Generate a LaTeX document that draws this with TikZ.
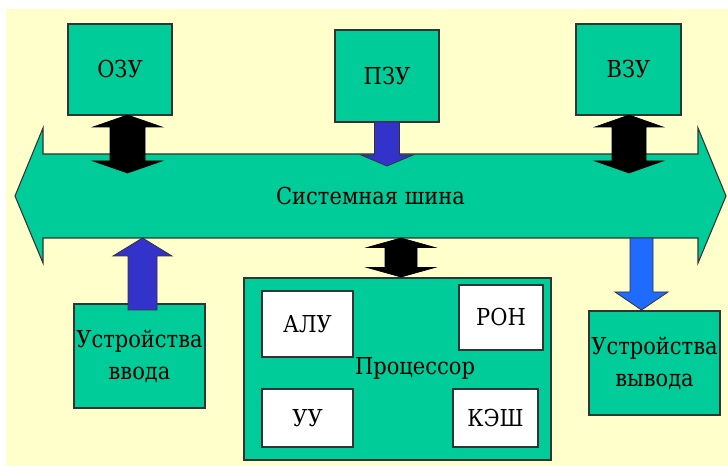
\documentclass[tikz,border=0pt]{standalone}
\usepackage{fontspec}
\newfontfamily\diagramfont{DejaVu Serif}[FakeStretch=0.9]
\usetikzlibrary{calc}

\definecolor{cream}{HTML}{FFFFCC}
\definecolor{busgreen}{HTML}{00CC99}
\definecolor{edgegray}{HTML}{333333}
\definecolor{romblue}{HTML}{3333CC}
\definecolor{outblue}{HTML}{1F6BFF}

% vertical double block arrow: #1 style, #2 upper tip, #3 lower tip,
% #4 shaft half-width, #5 head half-width, #6 head length
\newcommand\blockDouble[6]{%
  \draw[#1] (#2) -- ($(#2)+(#5,#6)$) -- ($(#2)+(#4,#6)$) -- ($(#3)+(#4,-#6)$)
    -- ($(#3)+(#5,-#6)$) -- (#3) -- ($(#3)+(-#5,-#6)$) -- ($(#3)+(-#4,-#6)$)
    -- ($(#2)+(-#4,#6)$) -- ($(#2)+(-#5,#6)$) -- cycle;}
% downward block arrow: #2 tail centre, #3 tip
\newcommand\blockDown[6]{%
  \draw[#1] ($(#2)+(-#4,0)$) -- ($(#2)+(#4,0)$) -- ($(#3)+(#4,-#6)$)
    -- ($(#3)+(#5,-#6)$) -- (#3) -- ($(#3)+(-#5,-#6)$) -- ($(#3)+(-#4,-#6)$) -- cycle;}
% upward block arrow: #2 tail centre, #3 tip
\newcommand\blockUp[6]{%
  \draw[#1] ($(#2)+(-#4,0)$) -- ($(#2)+(#4,0)$) -- ($(#3)+(#4,#6)$)
    -- ($(#3)+(#5,#6)$) -- (#3) -- ($(#3)+(-#5,#6)$) -- ($(#3)+(-#4,#6)$) -- cycle;}

\tikzset{
  label font/.style={font=\diagramfont\fontsize{17.5}{24}\selectfont},
  box/.style={draw=edgegray, fill=busgreen, line width=0.8pt, inner sep=0pt,
              outer sep=0pt, align=center, label font},
  unit/.style={box, fill=white},
  busshape/.style={draw=edgegray, fill=busgreen, line width=0.8pt},
  blackarrow/.style={draw=black, fill=black, line width=0.5pt},
  romarrow/.style={draw=edgegray, fill=romblue, line width=0.6pt},
  outarrow/.style={draw=edgegray, fill=outblue, line width=0.6pt},
}

\begin{document}
\begin{tikzpicture}[x=0.75pt, y=-0.75pt]
  \useasboundingbox (0,0) rectangle (728,466);
  \fill[cream] (6,9) rectangle (728,466);

  % memory blocks
  \node[box, minimum width=104*0.75pt, minimum height=91*0.75pt] (ozu) at (120,69.5) {ОЗУ};
  \node[box, minimum width=104*0.75pt, minimum height=92*0.75pt] (pzu) at (387,76) {ПЗУ};
  \node[box, minimum width=105*0.75pt, minimum height=91*0.75pt] (vzu) at (628.5,69.5) {ВЗУ};

  % peripheral devices
  \node[box, minimum width=131*0.75pt, minimum height=104*0.75pt] (inp) at (139.5,356) {Устройства\\ввода};
  \node[box, minimum width=131*0.75pt, minimum height=104*0.75pt] (outp) at (654.5,363) {Устройства\\вывода};

  % processor and its units
  \node[box, minimum width=307*0.75pt, minimum height=182*0.75pt] (cpu) at (397.5,369) {};
  \node[label font] (cpulabel) at (415,368) {Процессор};
  \node[unit, minimum width=91*0.75pt, minimum height=66*0.75pt] (alu) at (307.5,324) {АЛУ};
  \node[unit, minimum width=84*0.75pt, minimum height=65*0.75pt] (ron) at (501,317.5) {РОН};
  \node[unit, minimum width=91*0.75pt, minimum height=58*0.75pt] (uu) at (307.5,418) {УУ};
  \node[unit, minimum width=85*0.75pt, minimum height=58*0.75pt] (kesh) at (495.5,418) {КЭШ};

  % system bus
  \path node[minimum width=655*0.75pt, minimum height=84*0.75pt, inner sep=0pt, outer sep=0pt] (bus) at (370.5,196) {};
  \draw[busshape] ($(bus.north west)+(0,-26)$) -- (bus.north west) -- (bus.north east)
    -- ($(bus.north east)+(0,-26)$) -- ($(bus.east)+(28,0)$) -- ($(bus.south east)+(0,25)$)
    -- (bus.south east) -- (bus.south west) -- ($(bus.south west)+(0,25)$)
    -- ($(bus.west)+(-28,0)$) -- cycle;
  \node[label font] (buslabel) at (bus.center) {Системная шина};

  % connector end points
  \coordinate (ozuT) at ($(ozu.south)+(7.5,0)$);
  \coordinate (ozuB) at ($(ozuT |- bus.north)+(0,19)$);
  \coordinate (vzuT) at ($(vzu.south)+(0.5,0)$);
  \coordinate (vzuB) at ($(vzuT |- bus.north)+(0,19)$);
  \coordinate (pzuT) at (pzu.south);
  \coordinate (pzuB) at ($(pzuT |- bus.north)+(0,12)$);
  \coordinate (inpT) at ($(inp.north)+(3,6)$);
  \coordinate (inpB) at (inpT |- bus.south);
  \coordinate (cpuB) at ($(cpu.north)+(3.5,-1)$);
  \coordinate (cpuT) at (cpuB |- bus.south);
  \coordinate (outT) at ($(outp.north)+(-13,-1)$);
  \coordinate (outB) at (outT |- bus.south);

  % connectors
  \blockDouble{blackarrow}{ozuT}{ozuB}{17.5}{34.5}{12}
  \blockDouble{blackarrow}{vzuT}{vzuB}{17}{34}{12}
  \blockDown{romarrow}{pzuT}{pzuB}{12.5}{26}{11}
  \blockUp{romarrow}{inpT}{inpB}{14.5}{29.5}{18}
  \blockDouble{blackarrow}{cpuT}{cpuB}{16}{34}{9.5}
  \blockDown{outarrow}{outB}{outT}{11.5}{26.5}{18}
\end{tikzpicture}
\end{document}
